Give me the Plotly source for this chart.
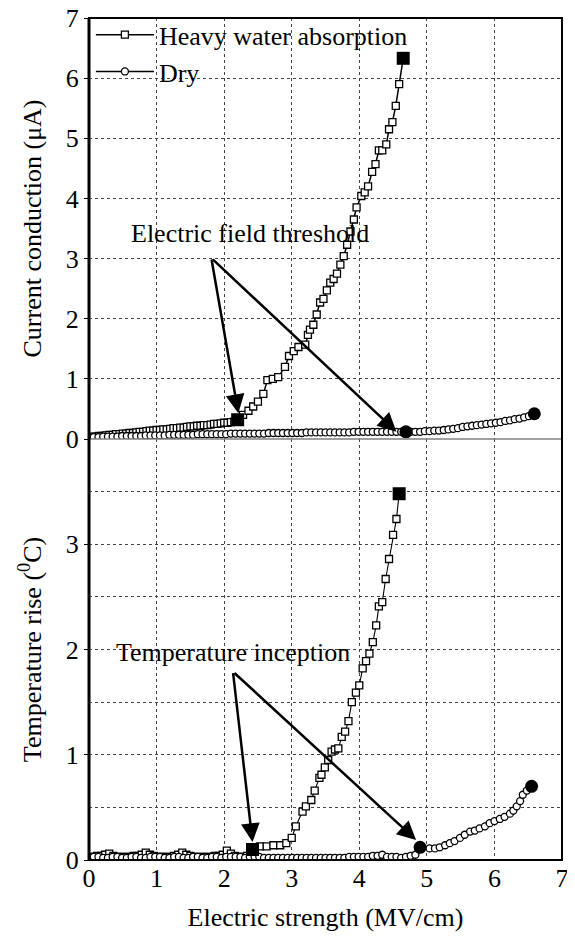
import plotly.graph_objects as go

# ---------------- data ----------------
# Top panel: current conduction (uA) vs electric strength (MV/cm)
heavy_top_x = [0.00, 0.05, 0.10, 0.15, 0.20, 0.25, 0.30, 0.35, 0.40, 0.45,
               0.50, 0.55, 0.60, 0.65, 0.70, 0.75, 0.80, 0.85, 0.90, 0.95,
               1.00, 1.05, 1.10, 1.15, 1.20, 1.25, 1.30, 1.35, 1.40, 1.45,
               1.50, 1.55, 1.60, 1.65, 1.70, 1.75, 1.80, 1.85, 1.90, 1.95,
               2.00, 2.05, 2.10, 2.15, 2.20,
               2.28, 2.36, 2.43, 2.50, 2.58, 2.64, 2.72, 2.80, 2.90, 2.96,
               3.03, 3.10, 3.20, 3.24, 3.27, 3.32, 3.37, 3.42, 3.47, 3.52,
               3.57, 3.62, 3.67, 3.72, 3.77, 3.82, 3.87, 3.92, 3.96, 4.03,
               4.08, 4.13, 4.19, 4.24, 4.29, 4.34, 4.40, 4.44, 4.49, 4.54,
               4.59, 4.65]
heavy_top_y = [0.03, 0.04, 0.04, 0.05, 0.05, 0.06, 0.07, 0.07, 0.08, 0.08,
               0.09, 0.09, 0.10, 0.10, 0.11, 0.12, 0.12, 0.13, 0.14, 0.14,
               0.15, 0.15, 0.16, 0.16, 0.17, 0.18, 0.18, 0.19, 0.19, 0.20,
               0.21, 0.21, 0.22, 0.22, 0.23, 0.23, 0.24, 0.25, 0.25, 0.26,
               0.27, 0.27, 0.28, 0.29, 0.32,
               0.40, 0.47, 0.54, 0.62, 0.75, 0.98, 1.00, 1.03, 1.20, 1.38,
               1.46, 1.53, 1.57, 1.73, 1.82, 1.90, 2.07, 2.27, 2.33, 2.47,
               2.60, 2.66, 2.75, 2.90, 3.04, 3.23, 3.45, 3.65, 3.85, 4.04,
               4.10, 4.20, 4.44, 4.57, 4.80, 4.80, 4.90, 5.15, 5.27, 5.54,
               5.90, 6.33]

dry_top_x = [0.00, 0.07, 0.14, 0.21, 0.28, 0.35, 0.42, 0.49, 0.56, 0.63,
             0.70, 0.77, 0.84, 0.91, 0.98, 1.05, 1.12, 1.19, 1.26, 1.33,
             1.40, 1.47, 1.54, 1.61, 1.68, 1.75, 1.82, 1.89, 1.96, 2.03,
             2.10, 2.17, 2.24, 2.31, 2.38, 2.45, 2.52, 2.59, 2.66, 2.73,
             2.80, 2.87, 2.94, 3.01, 3.08, 3.15, 3.22, 3.29, 3.36, 3.43,
             3.50, 3.57, 3.64, 3.71, 3.78, 3.85, 3.92, 3.99, 4.06, 4.13,
             4.20, 4.27, 4.34, 4.41, 4.48, 4.55, 4.62,
             4.69,
             4.76, 4.83, 4.90, 4.97, 5.04, 5.11, 5.18, 5.25, 5.32, 5.39,
             5.46, 5.53, 5.60, 5.67, 5.74, 5.81, 5.88, 5.95, 6.02, 6.09,
             6.16, 6.23, 6.30, 6.37, 6.44, 6.51, 6.59]
dry_top_y = [0.03, 0.03, 0.03, 0.04, 0.04, 0.04, 0.04, 0.05, 0.05, 0.05,
             0.05, 0.05, 0.06, 0.06, 0.06, 0.06, 0.06, 0.07, 0.07, 0.07,
             0.07, 0.07, 0.07, 0.08, 0.08, 0.08, 0.08, 0.08, 0.08, 0.08,
             0.09, 0.09, 0.09, 0.09, 0.09, 0.09, 0.09, 0.09, 0.10, 0.10,
             0.10, 0.10, 0.10, 0.10, 0.10, 0.10, 0.11, 0.11, 0.11, 0.11,
             0.11, 0.11, 0.11, 0.11, 0.11, 0.11, 0.12, 0.12, 0.12, 0.12,
             0.12, 0.12, 0.12, 0.12, 0.12, 0.12, 0.12,
             0.12,
             0.12, 0.12, 0.12, 0.13, 0.13, 0.14, 0.14, 0.15, 0.16, 0.17,
             0.18, 0.20, 0.21, 0.22, 0.23, 0.24, 0.25, 0.26, 0.27, 0.28,
             0.30, 0.31, 0.33, 0.34, 0.36, 0.38, 0.42]

# highlighted points (threshold and final points)
heavy_top_mark_x = [2.20, 4.65]
heavy_top_mark_y = [0.32, 6.33]
dry_top_mark_x = [4.69, 6.59]
dry_top_mark_y = [0.12, 0.42]

# Bottom panel: temperature rise (deg C) vs electric strength (MV/cm)
heavy_bot_x = [0.00, 0.06, 0.12, 0.18, 0.24, 0.30, 0.36, 0.42, 0.48, 0.54,
               0.60, 0.66, 0.72, 0.78, 0.84, 0.90, 0.96, 1.02, 1.08, 1.14,
               1.20, 1.26, 1.32, 1.38, 1.44, 1.50, 1.56, 1.62, 1.68, 1.74,
               1.80, 1.86, 1.92, 1.98, 2.04, 2.10, 2.16, 2.22, 2.28, 2.34,
               2.42,
               2.53, 2.63, 2.73, 2.83, 2.92, 3.00, 3.06, 3.16, 3.21, 3.29,
               3.34, 3.41, 3.44, 3.49, 3.54, 3.59, 3.64, 3.69, 3.74, 3.79,
               3.84, 3.89, 3.95, 4.00, 4.05, 4.10, 4.15, 4.20, 4.25, 4.29,
               4.34, 4.39, 4.44, 4.50, 4.55, 4.59]
heavy_bot_y = [0.03, 0.03, 0.04, 0.04, 0.05, 0.06, 0.04, 0.03, 0.03, 0.03,
               0.03, 0.04, 0.04, 0.05, 0.07, 0.05, 0.04, 0.03, 0.03, 0.03,
               0.03, 0.04, 0.05, 0.07, 0.05, 0.04, 0.03, 0.03, 0.03, 0.03,
               0.03, 0.04, 0.04, 0.05, 0.09, 0.06, 0.04, 0.03, 0.03, 0.04,
               0.10,
               0.13, 0.13, 0.14, 0.14, 0.16, 0.21, 0.32, 0.46, 0.51, 0.57,
               0.66, 0.78, 0.81, 0.88, 0.95, 1.03, 1.05, 1.06, 1.17, 1.22,
               1.32, 1.50, 1.59, 1.66, 1.82, 1.89, 1.96, 2.07, 2.23, 2.41,
               2.45, 2.67, 2.86, 3.09, 3.24, 3.48]

dry_bot_x = [0.00, 0.07, 0.14, 0.21, 0.28, 0.35, 0.42, 0.49, 0.56, 0.63,
             0.70, 0.77, 0.84, 0.91, 0.98, 1.05, 1.12, 1.19, 1.26, 1.33,
             1.40, 1.47, 1.54, 1.61, 1.68, 1.75, 1.82, 1.89, 1.96, 2.03,
             2.10, 2.17, 2.24, 2.31, 2.38, 2.45, 2.52, 2.59, 2.66, 2.73,
             2.80, 2.87, 2.94, 3.01, 3.08, 3.15, 3.22, 3.29, 3.36, 3.43,
             3.50, 3.57, 3.64, 3.71, 3.78, 3.85, 3.92, 3.99, 4.06, 4.13,
             4.20, 4.27, 4.34, 4.41, 4.48, 4.55, 4.62, 4.69, 4.76, 4.83,
             4.90,
             5.04, 5.12, 5.19, 5.27, 5.34, 5.41, 5.49, 5.56, 5.64, 5.71,
             5.78, 5.86, 5.93, 6.00, 6.08, 6.15, 6.23, 6.28, 6.33, 6.38,
             6.42, 6.48, 6.55]
dry_bot_y = [0.02, 0.03, 0.03, 0.02, 0.02, 0.03, 0.03, 0.02, 0.02, 0.03,
             0.03, 0.02, 0.02, 0.03, 0.03, 0.03, 0.02, 0.02, 0.03, 0.03,
             0.02, 0.02, 0.03, 0.03, 0.02, 0.02, 0.03, 0.03, 0.02, 0.03,
             0.03, 0.03, 0.03, 0.02, 0.03, 0.03, 0.03, 0.02, 0.02, 0.02,
             0.02, 0.02, 0.02, 0.02, 0.02, 0.02, 0.02, 0.02, 0.02, 0.02,
             0.02, 0.02, 0.02, 0.02, 0.02, 0.03, 0.03, 0.03, 0.03, 0.03,
             0.04, 0.04, 0.05, 0.03, 0.03, 0.03, 0.02, 0.03, 0.04, 0.05,
             0.12,
             0.11, 0.11, 0.12, 0.14, 0.16, 0.18, 0.21, 0.24, 0.27, 0.28,
             0.30, 0.32, 0.35, 0.37, 0.39, 0.41, 0.44, 0.47, 0.51, 0.56,
             0.62, 0.66, 0.70]

heavy_bot_mark_x = [2.42, 4.59]
heavy_bot_mark_y = [0.10, 3.48]
dry_bot_mark_x = [4.90, 6.55]
dry_bot_mark_y = [0.12, 0.70]

series_names = ["Heavy water absorption", "Dry"]
x_ticks = [0, 1, 2, 3, 4, 5, 6, 7]
top_y_ticks = [0, 1, 2, 3, 4, 5, 6, 7]
bot_y_ticks = [0, 1, 2, 3]

top_text = "Electric field threshold"
bot_text = "Temperature inception"

# ---------------- figure ----------------
FONT = "Liberation Serif"
FS = 26
fig = go.Figure()

sq_marker = dict(symbol="square", size=7, color="white",
                 line=dict(color="black", width=1.3))
ci_marker = dict(symbol="circle", size=7, color="white",
                 line=dict(color="black", width=1.3))

fig.add_trace(go.Scatter(x=heavy_top_x, y=heavy_top_y, mode="lines+markers",
                         name=series_names[0], line=dict(color="black", width=1.5),
                         marker=sq_marker, xaxis="x", yaxis="y"))
fig.add_trace(go.Scatter(x=dry_top_x, y=dry_top_y, mode="lines+markers",
                         name=series_names[1], line=dict(color="black", width=1.5),
                         marker=ci_marker, xaxis="x", yaxis="y"))
fig.add_trace(go.Scatter(x=heavy_bot_x, y=heavy_bot_y, mode="lines+markers",
                         showlegend=False, line=dict(color="black", width=1.1),
                         marker=sq_marker, xaxis="x2", yaxis="y2"))
fig.add_trace(go.Scatter(x=dry_bot_x, y=dry_bot_y, mode="lines+markers",
                         showlegend=False, line=dict(color="black", width=1.1),
                         marker=ci_marker, xaxis="x2", yaxis="y2"))

for mx, my, sym, ax, ay in [
    (heavy_top_mark_x, heavy_top_mark_y, "square", "x", "y"),
    (dry_top_mark_x, dry_top_mark_y, "circle", "x", "y"),
    (heavy_bot_mark_x, heavy_bot_mark_y, "square", "x2", "y2"),
    (dry_bot_mark_x, dry_bot_mark_y, "circle", "x2", "y2"),
]:
    fig.add_trace(go.Scatter(x=mx, y=my, mode="markers", showlegend=False,
                             marker=dict(symbol=sym, size=13, color="black"),
                             xaxis=ax, yaxis=ay))

grid = dict(showgrid=True, gridcolor="#444444", gridwidth=1, griddash="dot",
            zeroline=False, showline=False, automargin=False,
            ticklabeloverflow="allow")
tickfont = dict(family=FONT, size=FS, color="black")

fig.update_layout(
    width=575, height=947,
    margin=dict(l=81, r=21, t=10, b=95, autoexpand=False),
    paper_bgcolor="white", plot_bgcolor="white",
    font=dict(family=FONT, color="black"),
    showlegend=True,
    legend=dict(x=0.004, y=1.008, xanchor="left", yanchor="top",
                bgcolor="rgba(0,0,0,0)", font=dict(family=FONT, size=FS),
                tracegroupgap=0, itemwidth=58),
    xaxis=dict(domain=[0, 1], range=[0, 7], anchor="y", tickvals=x_ticks,
               showticklabels=False, ticks="", **grid),
    yaxis=dict(domain=[0.5, 1], range=[0, 7], anchor="x", tickvals=top_y_ticks,
               ticks="outside", ticklen=4, tickcolor="black", tickfont=tickfont,
               title=dict(text="Current conduction (μA)",
                          font=dict(family=FONT, size=FS), standoff=16),
               **grid),
    xaxis2=dict(domain=[0, 1], range=[0, 7], anchor="y2", matches="x",
                tickvals=x_ticks, ticks="", tickfont=tickfont,
                title=dict(text="Electric strength (MV/cm)",
                           font=dict(family=FONT, size=FS), standoff=15),
                **grid),
    yaxis2=dict(domain=[0, 0.5], range=[0, 4], anchor="x2", tickvals=bot_y_ticks,
                ticks="outside", ticklen=4, tickcolor="black",
                tickfont=tickfont,
                minor=dict(dtick=0.5, showgrid=True, gridcolor="#444444",
                           gridwidth=1, griddash="dot"),
                title=dict(text="Temperature rise (<sup>0</sup>C)",
                           font=dict(family=FONT, size=FS), standoff=16),
                **grid),
)

shapes = [
    dict(type="line", xref="paper", yref="paper", x0=0, x1=1, y0=0.5, y1=0.5,
         line=dict(color="#808080", width=1.5), layer="above"),
    dict(type="rect", xref="paper", yref="paper", x0=0, x1=1, y0=0, y1=1,
         line=dict(color="black", width=2), layer="above"),
    dict(type="line", xref="paper", yref="paper", x0=0, x1=0, y0=0, y1=1,
         line=dict(color="black", width=3), layer="above"),
]
fig.update_layout(shapes=shapes)

annots = []
for hx, hy in [(2.21, 0.43), (4.55, 0.12)]:
    annots.append(dict(x=hx, y=hy, xref="x", yref="y", ax=1.81, ay=3.01,
                       axref="x", ayref="y", showarrow=True, arrowhead=2,
                       arrowwidth=2.5, arrowsize=1.5, arrowcolor="black", text=""))
annots.append(dict(x=2.38, y=3.42, xref="x", yref="y", text=top_text,
                   showarrow=False, font=dict(family=FONT, size=FS, color="black")))
for hx, hy in [(2.42, 0.17), (4.84, 0.19)]:
    annots.append(dict(x=hx, y=hy, xref="x2", yref="y2", ax=2.13, ay=1.79,
                       axref="x2", ayref="y2", showarrow=True, arrowhead=2,
                       arrowwidth=2.5, arrowsize=1.5, arrowcolor="black", text=""))
annots.append(dict(x=2.13, y=1.97, xref="x2", yref="y2", text=bot_text,
                   showarrow=False, font=dict(family=FONT, size=FS, color="black")))
fig.update_layout(annotations=annots)

fig.write_html("out.html")
